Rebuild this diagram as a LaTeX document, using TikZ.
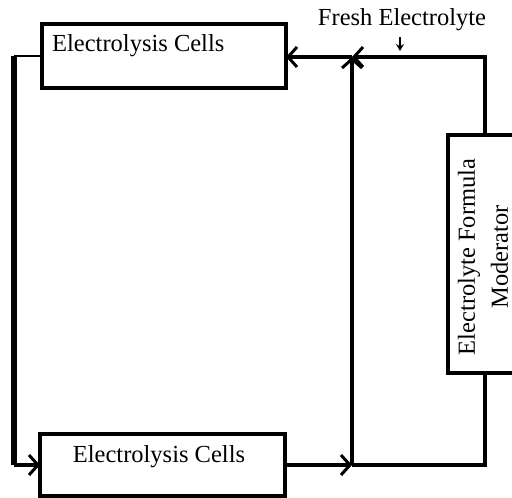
\documentclass[tikz,border=0pt]{standalone}
\usepackage{fontspec}
\setmainfont{Liberation Serif}
\usetikzlibrary{arrows.meta}
\begin{document}
\begin{tikzpicture}[x=1pt,y=-1pt,
  boxstyle/.style={draw,line width=3.6pt,inner sep=0pt},
  flow/.style={line width=3.2pt},
  barb/.style={-{Straight Barb[length=9pt,width=20pt,line width=3pt]}},
  lbl/.style={font=\fontsize{24.5}{33}\selectfont,inner sep=0pt}]
\useasboundingbox (0,0) rectangle (512,498);
\begin{scope}
\clip (0,0) rectangle (512,498);
% boxes
\draw[boxstyle] (42,24) rectangle (286,88);
\node[lbl,anchor=west] (t1) at (52,46) {Electrolysis Cells};
\coordinate (tbL) at (42,56);
\coordinate (tbR) at (286,57);
\draw[boxstyle] (40,434) rectangle (285,496);
\node[lbl] (t2) at (159,457) {Electrolysis Cells};
\coordinate (bbL) at (40,465);
\coordinate (bbR) at (285,465);
\draw[boxstyle] (448,135) rectangle (530,373);
\node[lbl,rotate=90,align=center] (mod) at (483,257) {Electrolyte Formula\\Moderator};
\coordinate (mT) at (485,135);
\coordinate (mB) at (485,373);
% junctions
\coordinate (j1) at (14,56);
\coordinate (j2) at (14,465);
\coordinate (jb) at (352,465);
\coordinate (jt) at (352,57);
\coordinate (jbr) at (485,465);
\coordinate (jtr) at (485,57);
% connectors
\draw[line width=2.4pt] (tbL) -- (j1);
\draw[line width=5.5pt] (j1) -- (j2);
\draw[flow,barb] (j2) -- (bbL);
\draw[flow,barb] (bbR) -- (jb);
\draw[flow] (jb) -- (jbr) -- (mB);
\draw[flow,barb] (jb) -- (jt);
\draw[flow,barb] (mT) -- (jtr) -- (jt);
\draw[flow,barb] (jt) -- (tbR);
% fresh electrolyte
\node[lbl] (fe) at (402,20) {Fresh Electrolyte};
\coordinate (feA) at (400,37);
\coordinate (feB) at (400,51);
\draw[line width=1.8pt,-{Stealth[length=7pt,width=8pt]}] (feA) -- (feB);
\end{scope}
\end{tikzpicture}
\end{document}
